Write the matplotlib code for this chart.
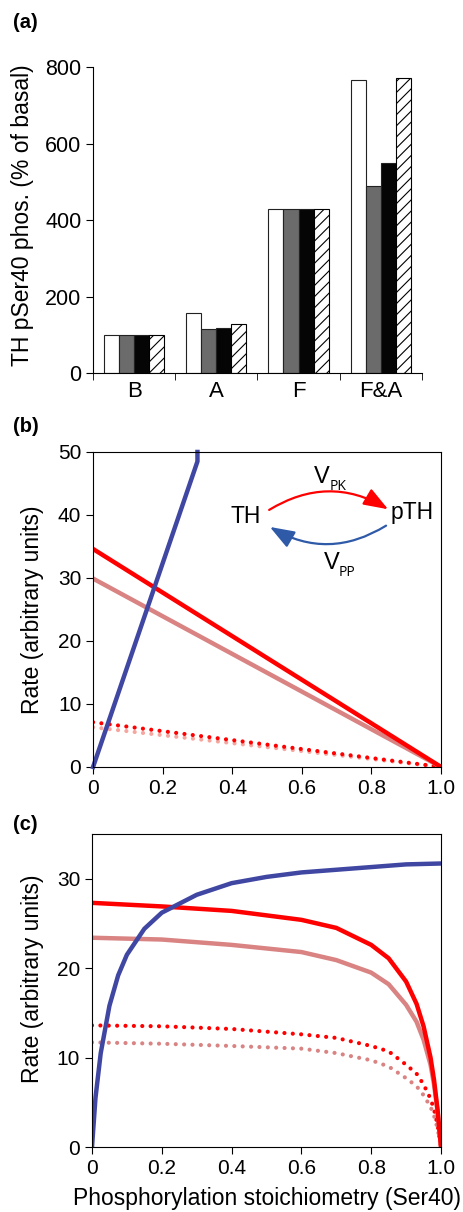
import matplotlib
matplotlib.use("Agg")
import matplotlib.pyplot as plt
import numpy as np
from matplotlib.patches import FancyArrowPatch

plt.rcParams['font.family'] = ['Liberation Sans', 'DejaVu Sans']

# ---------- data ----------
categories = ["B", "A", "F", "F&A"]
series_white = [100, 157, 430, 765]
series_gray = [100, 115, 430, 490]
series_black = [100, 118, 430, 548]
series_hatch = [100, 127, 430, 770]

# panel (b): linear rates
b_x = [0.0, 1.0]
b_pk_high = [34.6, 0.0]
b_pk_low = [29.9, 0.0]
b_pk_high_dot = [7.1, 0.0]
b_pk_low_dot = [6.3, 0.0]
b_pp_x = [0.0, 0.3, 0.3]
b_pp_y = [0.0, 48.5, 50.0]

# panel (c): saturable rates
c_pp_x = [0.0, 0.01, 0.025, 0.05, 0.075, 0.1, 0.15, 0.2, 0.3, 0.4, 0.5, 0.6, 0.7, 0.8, 0.9, 1.0]
c_pp_y = [0.0, 5.5, 10.5, 15.8, 19.2, 21.5, 24.4, 26.2, 28.2, 29.5, 30.2, 30.7, 31.0, 31.3, 31.6, 31.7]

c_x = [0.0, 0.2, 0.4, 0.6, 0.7, 0.8, 0.85, 0.9, 0.93, 0.95, 0.97, 0.98, 0.99, 1.0]
c_pk_high = [27.3, 26.9, 26.4, 25.4, 24.5, 22.6, 21.1, 18.5, 16.0, 13.5, 10.0, 7.5, 4.2, 0.0]
c_pk_low = [23.4, 23.2, 22.6, 21.8, 20.9, 19.5, 18.2, 15.9, 14.0, 12.0, 9.2, 7.0, 4.0, 0.0]
c_pk_high_dot = [13.6, 13.5, 13.2, 12.6, 12.2, 11.3, 10.7, 9.2, 8.2, 7.0, 5.4, 4.2, 2.5, 0.0]
c_pk_low_dot = [11.7, 11.55, 11.3, 11.0, 10.5, 9.7, 9.0, 7.7, 6.8, 5.8, 4.5, 3.5, 2.1, 0.0]

RED = '#ff0000'
PINK = '#d98383'
LIGHTPINK = '#f5a69f'
BLUE = '#3f47a2'
DOT = (0, (0.01, 2.0))

TICK = 15
LABEL = 16.5
PANEL = 14.5

fig = plt.figure(figsize=(4.63, 12.12), dpi=100)

# ---------- panel (a) ----------
axa = fig.add_axes([0.201, 0.6922, 0.710, 0.2525])
x = np.arange(len(categories))
w = 0.183
edge = '#222222'
plt.rcParams['hatch.linewidth'] = 0.8
axa.bar(x - 1.5 * w, series_white, w, color='white', edgecolor=edge, linewidth=0.8)
axa.bar(x - 0.5 * w, series_gray, w, color='#6b6b6b', edgecolor=edge, linewidth=0.8)
axa.bar(x + 0.5 * w, series_black, w, color='#050505', edgecolor=edge, linewidth=0.8)
axa.bar(x + 1.5 * w, series_hatch, w, color='white', edgecolor='black', hatch='///', linewidth=0.8)
axa.set_xlim(-0.5, 3.5)
axa.set_ylim(0, 800)
axa.set_yticks([0, 200, 400, 600, 800])
axa.set_xticks(x)
axa.set_xticklabels(categories)
axa.set_xticks(np.arange(-0.5, 4.0, 1.0), minor=True)
axa.tick_params(axis='x', which='major', length=0, labelsize=16, pad=6)
axa.tick_params(axis='x', which='minor', length=5, direction='out')
axa.tick_params(axis='y', labelsize=15.5, length=5, direction='out')
axa.spines['top'].set_visible(False)
axa.spines['right'].set_visible(False)
axa.set_ylabel("TH pSer40 phos. (% of basal)", fontsize=LABEL)
axa.yaxis.set_label_coords(-0.179, 0.516)
fig.text(0.028, 0.9818, "(a)", fontsize=PANEL, fontweight='bold', va='center', ha='left')

# ---------- panel (b) ----------
axb = fig.add_axes([0.201, 0.3672, 0.7516, 0.2599])
axb.plot(b_x, b_pk_low_dot, color=LIGHTPINK, lw=3, linestyle=DOT, dash_capstyle='round')
axb.plot(b_x, b_pk_high_dot, color=RED, lw=3, linestyle=DOT, dash_capstyle='round')
axb.plot(b_x, b_pk_low, color=PINK, lw=3.2)
axb.plot(b_x, b_pk_high, color=RED, lw=3.2)
axb.plot(b_pp_x, b_pp_y, color=BLUE, lw=3.2, clip_on=False)
axb.set_xlim(0, 1)
axb.set_ylim(0, 50)
axb.set_xticks([0, 0.2, 0.4, 0.6, 0.8, 1.0])
axb.set_xticklabels(["0", "0.2", "0.4", "0.6", "0.8", "1.0"])
axb.set_yticks([0, 10, 20, 30, 40, 50])
axb.tick_params(labelsize=TICK, length=5, direction='out')
axb.set_ylabel("Rate (arbitrary units)", fontsize=LABEL)
axb.yaxis.set_label_coords(-0.141, 0.5)
fig.text(0.028, 0.6477, "(b)", fontsize=PANEL, fontweight='bold', va='center', ha='left')

# diagram
axb.text(0.439, 39.8, "TH", fontsize=16.5, ha='center', va='center')
axb.text(0.916, 40.4, "pTH", fontsize=16.5, ha='center', va='center')
axb.text(0.657, 46.1, "V", fontsize=17, ha='center', va='center')
axb.text(0.705, 44.5, "PK", fontsize=10, ha='center', va='center', family='Open Sans')
axb.text(0.686, 32.4, "V", fontsize=17, ha='center', va='center')
axb.text(0.731, 30.8, "PP", fontsize=10, ha='center', va='center', family='Open Sans')
arr1 = FancyArrowPatch((0.506, 40.8), (0.848, 40.9), connectionstyle="arc3,rad=-0.3",
                       arrowstyle="-|>,head_length=15,head_width=5.5", color=RED, lw=1.6,
                       shrinkA=0, shrinkB=0)
arr2 = FancyArrowPatch((0.842, 38.3), (0.508, 38.1), connectionstyle="arc3,rad=-0.3",
                       arrowstyle="-|>,head_length=15,head_width=5.5", color='#2f5aa8', lw=1.6,
                       shrinkA=0, shrinkB=0)
axb.add_patch(arr1)
axb.add_patch(arr2)

# ---------- panel (c) ----------
axc = fig.add_axes([0.1987, 0.0536, 0.7538, 0.2583])
axc.plot(c_x, c_pk_low_dot, color=PINK, lw=3, linestyle=DOT, dash_capstyle='round')
axc.plot(c_x, c_pk_high_dot, color=RED, lw=3, linestyle=DOT, dash_capstyle='round')
axc.plot(c_x, c_pk_low, color=PINK, lw=3.2)
axc.plot(c_x, c_pk_high, color=RED, lw=3.2)
axc.plot(c_pp_x, c_pp_y, color=BLUE, lw=3.2)
axc.set_xlim(0, 1)
axc.set_ylim(0, 35)
axc.set_xticks([0, 0.2, 0.4, 0.6, 0.8, 1.0])
axc.set_xticklabels(["0", "0.2", "0.4", "0.6", "0.8", "1.0"])
axc.set_yticks([0, 10, 20, 30])
axc.tick_params(labelsize=TICK, length=5, direction='out')
axc.set_ylabel("Rate (arbitrary units)", fontsize=LABEL)
axc.yaxis.set_label_coords(-0.1375, 0.537)
axc.set_xlabel("Phosphorylation stoichiometry (Ser40)", fontsize=LABEL)
axc.xaxis.set_label_coords(0.5, -0.128)
fig.text(0.028, 0.320, "(c)", fontsize=PANEL, fontweight='bold', va='center', ha='left')

fig.savefig("out.png", dpi=100)
